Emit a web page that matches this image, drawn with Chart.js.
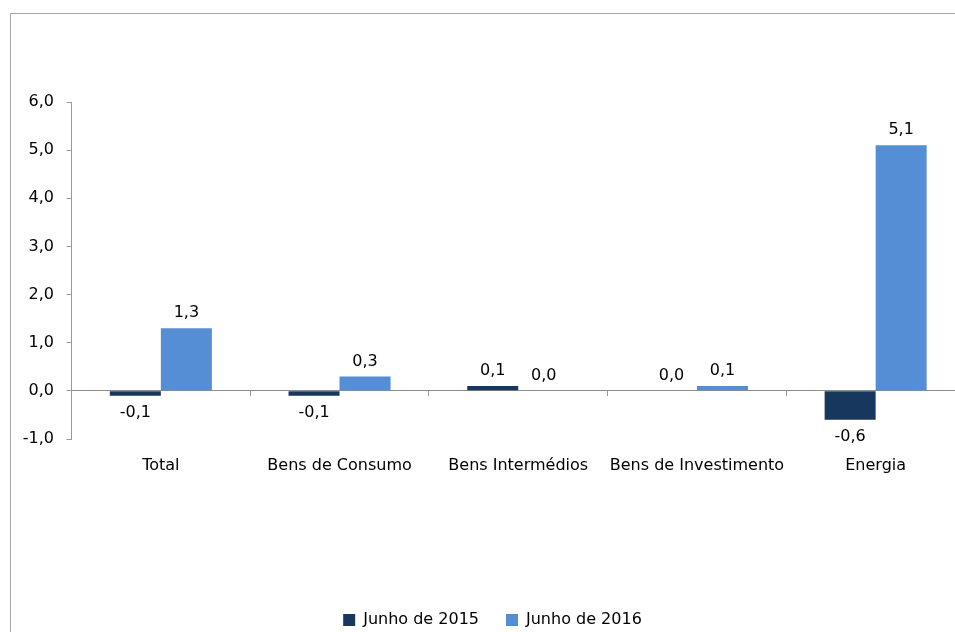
<!DOCTYPE html>
<html>
<head>
<meta charset="utf-8">
<script src="https://cdn.jsdelivr.net/npm/chart.js@4/dist/chart.umd.min.js"></script>
<style>
  html, body { margin: 0; padding: 0; background: #fff; overflow: hidden; width: 955px; height: 632px; }
  #frame { position: absolute; left: 10px; top: 13px; width: 1000px; height: 700px;
           border-left: 1px solid #a6a6a6; border-top: 1px solid #a6a6a6; }
  #wrap { position: absolute; left: 0; top: 0; width: 1000px; height: 700px; }
</style>
</head>
<body>
<div id="frame"></div>
<div id="wrap"><canvas id="c" width="1000" height="700"></canvas></div>
<script>
const categories = ["Total", "Bens de Consumo", "Bens Intermédios", "Bens de Investimento", "Energia"];
const seriesNames = ["Junho de 2015", "Junho de 2016"];
const jun2015 = [-0.1, -0.1, 0.1, 0.0, -0.6];
const jun2016 = [1.3, 0.3, 0.0, 0.1, 5.1];
const yMin = -1, yMax = 6, yStep = 1;

const FONT = "'DejaVu Sans', sans-serif";
const fmt = v => Number(v).toFixed(1).replace('.', ',');

const valueLabels = {
  id: 'valueLabels',
  afterDatasetsDraw(chart) {
    const ctx = chart.ctx;
    ctx.save();
    ctx.font = "16px " + FONT;
    ctx.fillStyle = '#000';
    ctx.textAlign = 'center';
    ctx.textBaseline = 'middle';
    chart.data.datasets.forEach((ds, i) => {
      const meta = chart.getDatasetMeta(i);
      meta.data.forEach((bar, j) => {
        const v = ds.data[j];
        const y = v < 0 ? Math.max(bar.y, bar.base) + 17 : Math.min(bar.y, bar.base) - 15;
        ctx.fillText(fmt(v), bar.x, y);
      });
    });
    ctx.restore();
  }
};

new Chart(document.getElementById('c'), {
  type: 'bar',
  data: {
    labels: categories,
    datasets: [
      { label: seriesNames[0], data: jun2015, backgroundColor: '#17375E', borderWidth: 0 },
      { label: seriesNames[1], data: jun2016, backgroundColor: '#558ED5', borderWidth: 0 }
    ]
  },
  options: {
    responsive: false,
    animation: false,
    devicePixelRatio: 1,
    layout: { padding: { left: 20, right: 35, top: 102, bottom: 62 } },
    datasets: { bar: { categoryPercentage: 0.571, barPercentage: 1.0 } },
    plugins: {
      legend: {
        position: 'bottom',
        labels: {
          boxWidth: 12, boxHeight: 12, padding: 27,
          color: '#000',
          font: { family: FONT, size: 16 }
        }
      },
      tooltip: { enabled: false }
    },
    scales: {
      x: {
        type: 'category',
        offset: true,
        grid: { display: false, drawTicks: false, offset: true },
        border: { display: false },
        ticks: { color: '#000', padding: 17, font: { family: FONT, size: 16 }, maxRotation: 0, autoSkip: false },
        afterFit: s => { s.height = 146; }
      },
      x2: {
        type: 'category',
        position: { y: 0 },
        offset: true,
        grid: { offset: true, drawOnChartArea: false, drawTicks: true, tickLength: 5, color: '#9a9a9a', lineWidth: 1 },
        border: { display: true, color: '#8c8c8c', width: 1 },
        ticks: { display: false }
      },
      y: {
        min: yMin, max: yMax,
        grid: { drawOnChartArea: false, drawTicks: true, tickLength: 5, color: '#9a9a9a' },
        border: { display: true, color: '#9a9a9a', width: 1 },
        ticks: { stepSize: yStep, color: '#000', padding: 12.5, font: { family: FONT, size: 16 }, callback: v => fmt(v) },
        afterFit: s => { s.width = 51.5; }
      }
    }
  },
  plugins: [valueLabels]
});
</script>
</body>
</html>
